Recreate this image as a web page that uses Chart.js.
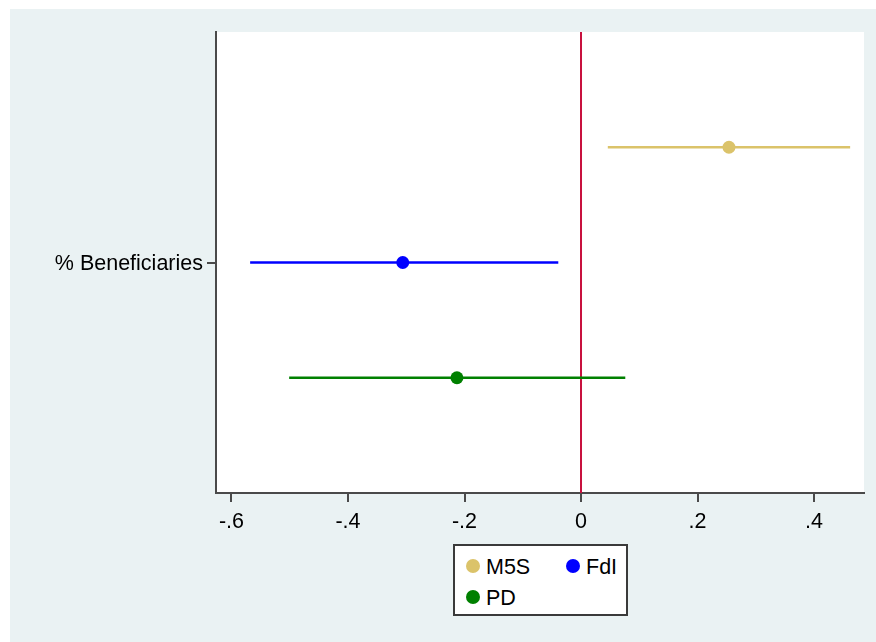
<!DOCTYPE html>
<html>
<head>
<meta charset="utf-8">
<script src="https://cdn.jsdelivr.net/npm/chart.js@4/dist/chart.umd.min.js"></script>
<style>
  body { margin: 0; background: #fff; }
  #wrap { position: relative; width: 876px; height: 642px; }
  #legend {
    position: absolute; left: 453px; top: 544px; width: 175px; height: 72px;
    box-sizing: border-box; border: 2px solid #3a3a3a; background: #fff;
    font-family: "Liberation Sans", Arial, sans-serif; font-size: 21.5px; color: #000;
  }
  #legend .item { position: absolute; height: 24px; line-height: 24px; }
  #legend .dot { position: absolute; left: 0; top: 5px; width: 14px; height: 14px; border-radius: 50%; }
  #legend .txt { position: absolute; left: 20px; top: 1px; white-space: nowrap; }
</style>
</head>
<body>
<div id="wrap">
  <canvas id="chart" width="876" height="642"></canvas>
  <div id="legend"></div>
</div>
<script>
// coefficient estimates and 95% CIs
const parties = ['M5S', 'FdI', 'PD'];
const colors = ['#dbc36a', '#0000ff', '#008000'];
const estimates = [0.254, -0.306, -0.213];
const ciLow = [0.046, -0.568, -0.501];
const ciHigh = [0.462, -0.039, 0.076];
const rowPos = [3, 2, 1];

const yLabels = ['% Beneficiaries'];
const yLabelPos = [2];
const xTicks = [-0.6, -0.4, -0.2, 0, 0.2, 0.4];
const xTickLabels = ['-.6', '-.4', '-.2', '0', '.2', '.4'];

const font = { family: '"Liberation Sans", Arial, sans-serif', size: 21.5 };
const axisColor = '#4a4a4a';

const datasets = [];
datasets.push({
  data: [{ x: 0, y: 0 }, { x: 0, y: 4 }],
  showLine: true, borderColor: '#c8103e', borderWidth: 2,
  pointRadius: 0, order: 10
});
parties.forEach((p, i) => {
  datasets.push({
    data: [{ x: ciLow[i], y: rowPos[i] }, { x: ciHigh[i], y: rowPos[i] }],
    showLine: true, borderColor: colors[i], borderWidth: 2.5,
    pointRadius: 0, order: 5
  });
  datasets.push({
    label: p,
    data: [{ x: estimates[i], y: rowPos[i] }],
    backgroundColor: colors[i], borderColor: colors[i],
    pointRadius: 6.5, borderWidth: 0, order: 1
  });
});

const bgPlugin = {
  id: 'bg',
  beforeDraw(chart) {
    const { ctx, chartArea: a } = chart;
    ctx.save();
    ctx.fillStyle = '#eaf2f3';
    ctx.fillRect(10, 9, chart.width - 10, chart.height - 9);
    ctx.fillStyle = '#ffffff';
    ctx.fillRect(a.left, a.top, a.right - a.left, a.bottom - a.top);
    ctx.restore();
  }
};

new Chart(document.getElementById('chart'), {
  type: 'scatter',
  data: { datasets },
  plugins: [bgPlugin],
  options: {
    responsive: false,
    animation: false,
    layout: { padding: { top: 32, right: 12, left: 0, bottom: 0 } },
    plugins: { legend: { display: false }, tooltip: { enabled: false } },
    scales: {
      x: {
        min: -0.6266, max: 0.4858,
        afterFit: s => { s.height = 149; },
        afterBuildTicks: s => { s.ticks = xTicks.map(v => ({ value: v })); },
        border: { display: true, color: axisColor, width: 2 },
        grid: { drawOnChartArea: false, drawTicks: true, tickLength: 9, color: axisColor, lineWidth: 2 },
        ticks: {
          font, color: '#000', padding: 7, maxRotation: 0,
          callback: v => xTickLabels[xTicks.indexOf(v)]
        }
      },
      y: {
        min: 0, max: 4,
        afterFit: s => { s.width = 216; },
        afterBuildTicks: s => { s.ticks = yLabelPos.map(v => ({ value: v })); },
        border: { display: true, color: axisColor, width: 2 },
        grid: { drawOnChartArea: false, drawTicks: true, tickLength: 9, color: axisColor, lineWidth: 2 },
        ticks: {
          font, color: '#000', padding: 4, labelOffset: 2,
          callback: v => yLabels[yLabelPos.indexOf(v)]
        }
      }
    }
  }
});

// legend, two columns like the original
const legendPos = [[11, 8], [111, 8], [11, 39]];
const legend = document.getElementById('legend');
parties.forEach((p, i) => {
  const it = document.createElement('div');
  it.className = 'item';
  it.style.left = legendPos[i][0] + 'px';
  it.style.top = legendPos[i][1] + 'px';
  it.innerHTML = `<span class="dot" style="background:${colors[i]}"></span><span class="txt">${p}</span>`;
  legend.appendChild(it);
});
</script>
</body>
</html>
